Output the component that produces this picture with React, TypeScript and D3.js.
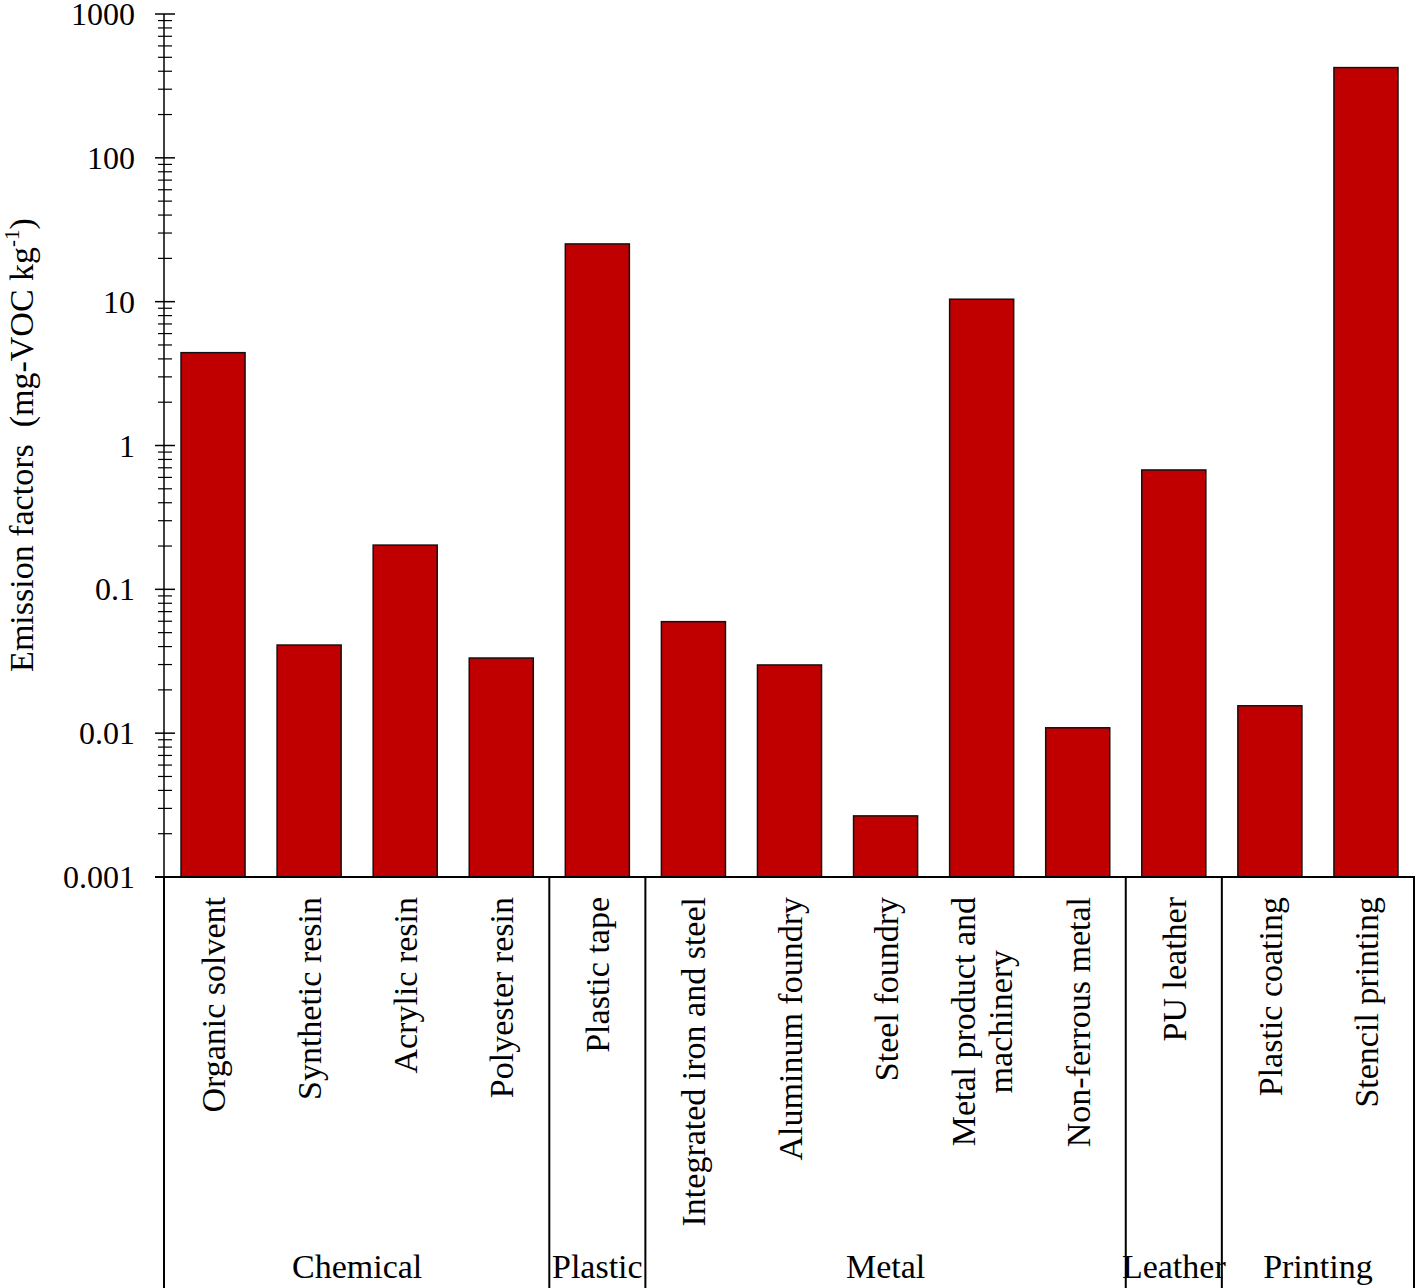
import React from "react";
import * as d3 from "d3";

const categories: string[] = [
  "Organic solvent",
  "Synthetic resin",
  "Acrylic resin",
  "Polyester resin",
  "Plastic tape",
  "Integrated iron and steel",
  "Aluminum foundry",
  "Steel foundry",
  "Metal product and|machinery",
  "Non-ferrous metal",
  "PU leather",
  "Plastic coating",
  "Stencil printing",
];
const values: number[] = [4.42, 0.041, 0.203, 0.0333, 25.2, 0.0596, 0.0298, 0.00266, 10.4, 0.0109, 0.676, 0.0155, 424];
const groups: string[] = ["Chemical", "Plastic", "Metal", "Leather", "Printing"];
const groupSizes: number[] = [4, 1, 5, 1, 2];
const yTickValues: number[] = [0.001, 0.01, 0.1, 1, 10, 100, 1000];
const yTickLabels: string[] = ["0.001", "0.01", "0.1", "1", "10", "100", "1000"];

const W = 1418;
const H = 1288;
const FONT = "'Liberation Serif', 'Times New Roman', serif";
const FS = 34;
const TICK_FS = 32;

function measure(text: string): number {
  const c = document.createElement("canvas");
  const ctx = c.getContext("2d");
  if (!ctx) return text.length * 15;
  ctx.font = `${FS}px ${FONT}`;
  return ctx.measureText(text).width;
}

export default function App() {
  const x0 = 165;
  const x1 = 1414;
  const yTop = 14;
  const yBot = 877;
  const x = d3
    .scaleBand<string>()
    .domain(categories)
    .range([x0, x1])
    .paddingInner(1 / 3)
    .paddingOuter(1 / 6);
  const y = d3.scaleLog().domain([0.001, 1000]).range([yBot, yTop]);
  const step = x.step();

  const minorTicks: number[] = [];
  for (let e = -3; e < 3; e++) {
    for (let m = 2; m <= 9; m++) minorTicks.push(m * Math.pow(10, e));
  }

  const bounds: number[] = [x0];
  let acc = 0;
  groupSizes.forEach((s) => {
    acc += s;
    bounds.push(x0 + acc * step);
  });

  const labelTop = 897;

  return (
    <svg
      width={W}
      height={H}
      style={{ position: "absolute", left: 0, top: 0, background: "#fff" }}
      fontFamily={FONT}
    >
      <rect x={0} y={0} width={W} height={H} fill="#fff" />
      {categories.map((c, i) => (
        <rect
          key={c}
          x={x(c)!}
          y={y(values[i])}
          width={x.bandwidth()}
          height={yBot - y(values[i])}
          fill="#C00000"
          stroke="#111"
          strokeWidth={1.5}
        />
      ))}
      <line x1={164} x2={164} y1={yTop} y2={yBot} stroke="#000" strokeWidth={1.5} />
      {yTickValues.map((v) => (
        <line key={"M" + v} x1={155} x2={175} y1={y(v)} y2={y(v)} stroke="#000" strokeWidth={1.5} />
      ))}
      {minorTicks.map((v) => (
        <line key={"m" + v} x1={158} x2={172} y1={y(v)} y2={y(v)} stroke="#000" strokeWidth={1.2} />
      ))}
      {yTickValues.map((v, i) => (
        <text key={"t" + v} x={135} y={y(v) + 11} textAnchor="end" fontSize={TICK_FS} fill="#000">
          {yTickLabels[i]}
        </text>
      ))}
      <text
        transform={`translate(33,445) rotate(-90)`}
        textAnchor="middle"
        fontSize={FS}
        fill="#000"
        style={{ whiteSpace: "pre" }}
      >
        {"Emission factors  (mg-VOC kg"}
        <tspan fontSize={21} dy={-14}>
          {"-1"}
        </tspan>
        <tspan dy={14}>{")"}</tspan>
      </text>
      <line x1={155} x2={x1 + 1} y1={yBot} y2={yBot} stroke="#000" strokeWidth={2} />
      {bounds.map((b, i) => (
        <line
          key={"b" + i}
          x1={i === 0 ? 164 : b}
          x2={i === 0 ? 164 : b}
          y1={yBot}
          y2={H}
          stroke="#000"
          strokeWidth={2}
        />
      ))}
      {categories.map((c) => {
        const lines = c.split("|");
        const cx = x(c)! + x.bandwidth() / 2;
        const maxW = Math.max(...lines.map(measure));
        const cy = labelTop + maxW / 2;
        const gap = 37;
        return lines.map((ln, j) => {
          const off = (j - (lines.length - 1) / 2) * gap;
          const bx = cx + off + 12;
          return (
            <text
              key={c + j}
              transform={`translate(${bx},${cy}) rotate(-90)`}
              textAnchor="middle"
              fontSize={FS}
              fill="#000"
            >
              {ln}
            </text>
          );
        });
      })}
      {groups.map((g, i) => (
        <text
          key={g}
          x={(bounds[i] + bounds[i + 1]) / 2}
          y={1278}
          textAnchor="middle"
          fontSize={FS}
          fill="#000"
        >
          {g}
        </text>
      ))}
    </svg>
  );
}
